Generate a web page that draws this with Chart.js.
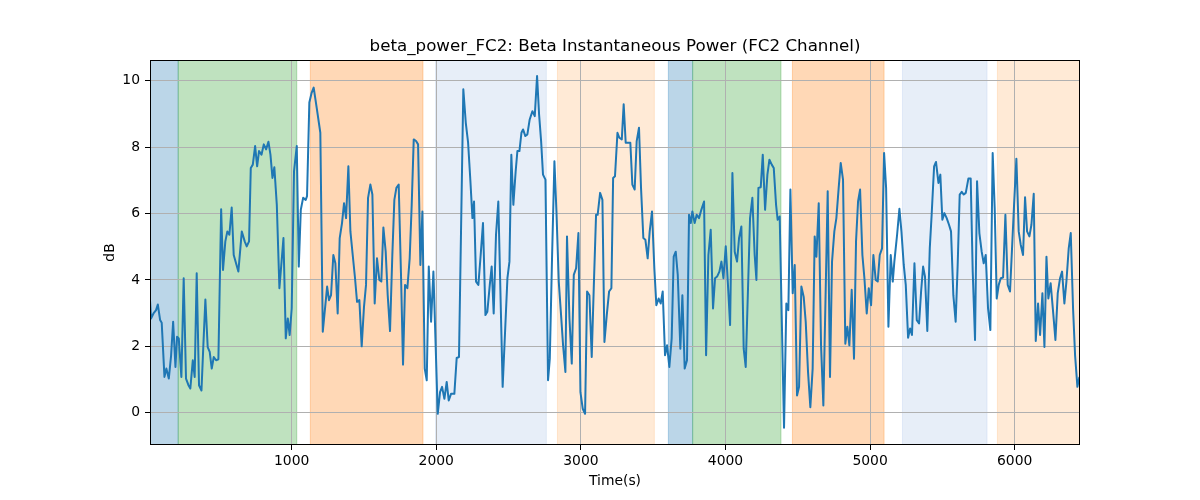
<!DOCTYPE html>
<html>
<head>
<meta charset="utf-8">
<title>beta_power_FC2</title>
<script src="https://cdn.jsdelivr.net/npm/chart.js@4/dist/chart.umd.min.js"></script>
<style>
	body { margin: 0; background: #ffffff; }
	#chart-canvas { display: block; }
</style>
</head>
<body>
<canvas id="chart-canvas" width="1200" height="500"></canvas>
<script>
// sample times (s) and beta power (dB)
const timeSec = [
	20,27,44,62,74,90,101,120,133,150,166,180,196,207,219,237,253,269,286,299,
	316,329,343,359,376,389,403,419,433,447,461,477,493,512,525,541,555,569,585,599,
	631,655,675,689,705,717,731,747,761,774,791,807,823,839,853,867,880,897,915,943,
	959,973,986,1000,1016,1035,1049,1063,1079,1097,1106,1122,1137,1152,1173,1198,1215,1245,1258,1272,
	1288,1302,1318,1332,1348,1362,1376,1392,1406,1422,1438,1452,1468,1484,1500,1514,1528,1544,1558,1574,
	1590,1606,1620,1634,1650,1664,1680,1696,1710,1724,1740,1756,1770,1784,1800,1816,1830,1844,1860,1874,
	1890,1904,1920,1934,1948,1964,1980,2010,2026,2040,2056,2072,2086,2102,2125,2141,2157,2187,2204,2220,
	2236,2250,2261,2275,2291,2307,2323,2340,2353,2370,2383,2397,2413,2429,2459,2492,2506,2519,2533,2549,
	2561,2575,2589,2600,2616,2630,2646,2665,2681,2697,2711,2725,2738,2755,2773,2785,2801,2817,2831,2847,
	2863,2877,2893,2904,2921,2937,2951,2967,2983,2997,3013,3029,3043,3059,3075,3089,3105,3116,3133,3149,
	3163,3179,3195,3211,3223,3236,3253,3266,3283,3296,3310,3329,3342,3356,3372,3386,3402,3416,3432,3446,
	3462,3476,3492,3508,3522,3538,3552,3566,3582,3596,3612,3628,3642,3656,3670,3688,3702,3718,3734,3748,
	3760,3771,3787,3801,3817,3833,3852,3866,3882,3898,3914,3928,3942,3958,3972,3986,4002,4016,4032,4048,
	4064,4080,4094,4110,4126,4140,4156,4170,4186,4202,4214,4228,4244,4258,4274,4290,4304,4320,4334,4350,
	4361,4375,4405,4421,4435,4449,4465,4479,4495,4509,4525,4541,4555,4571,4587,4603,4617,4629,4645,4661,
	4677,4707,4723,4737,4753,4767,4783,4797,4813,4829,4843,4857,4873,4889,4903,4917,4931,4947,4961,4977,
	4991,5007,5023,5039,5053,5067,5083,5097,5111,5127,5143,5157,5168,5187,5203,5217,5233,5247,5263,5277,
	5290,5307,5323,5339,5353,5367,5380,5396,5413,5426,5443,5456,5473,5486,5500,5514,5530,5546,5560,5576,
	5592,5606,5620,5634,5648,5662,5680,5696,5710,5726,5740,5756,5772,5786,5800,5816,5832,5848,5862,5876,
	5890,5904,5920,5936,5952,5968,5996,6012,6028,6042,6058,6072,6086,6102,6116,6132,6146,6162,6176,6192,
	6206,6220,6233,6249,6266,6282,6298,6314,6328,6344,6358,6374,6388,6404,6418,6434,6448
];

const betaPowerDb = [
	3.39,2.84,2.99,3.09,3.26,2.79,2.71,1.08,1.33,1.03,1.73,2.74,1.38,2.29,2.24,1.08,4.05,1.03,0.83,0.73,
	1.58,1.08,4.20,0.83,0.67,2.03,3.41,1.98,1.83,1.33,1.68,1.58,1.61,6.13,4.30,5.16,5.46,5.36,6.18,4.75,
	4.25,5.46,5.16,5.01,5.16,7.37,7.47,8.03,7.42,7.88,7.77,8.08,7.93,8.16,7.77,7.07,7.39,6.26,3.75,5.26,
	2.24,2.84,2.34,3.14,7.27,8.03,4.40,6.11,6.47,6.41,6.52,9.34,9.62,9.79,9.18,8.43,2.44,3.80,3.39,3.54,
	4.75,4.50,2.99,5.26,5.71,6.31,5.86,7.42,5.46,4.75,4.05,3.34,3.39,2.00,3.19,3.85,6.47,6.87,6.57,3.29,
	4.65,4.00,3.95,5.58,4.85,3.54,2.46,4.75,6.41,6.77,6.87,4.15,1.45,3.85,3.75,4.65,6.26,8.23,8.18,8.08,
	4.45,6.06,1.33,0.98,4.40,2.74,4.25,-0.03,0.62,0.78,0.42,0.93,0.37,0.57,0.57,1.65,1.68,9.74,8.73,8.13,
	6.97,5.86,6.36,3.95,3.85,4.75,5.71,2.94,3.04,3.85,4.40,2.99,5.36,6.36,0.78,4.05,4.55,7.77,6.26,7.27,
	7.88,7.88,8.43,8.53,8.33,8.38,8.83,9.08,8.93,10.14,8.98,8.18,7.17,7.02,0.98,1.63,4.75,7.57,6.06,3.95,
	2.94,2.03,1.23,5.31,2.84,1.48,4.15,4.35,5.41,0.62,0.12,-0.03,3.65,3.54,1.68,3.75,5.96,5.96,6.62,6.41,
	2.13,2.94,3.65,3.75,7.07,7.12,8.43,8.28,8.23,9.29,8.13,8.13,8.13,6.87,6.72,8.18,8.58,6.77,5.26,5.21,
	4.65,5.46,6.06,4.35,3.24,3.44,3.29,3.65,1.73,2.03,1.38,2.24,4.70,4.85,4.15,1.93,3.54,1.33,1.58,5.96,
	5.71,6.06,5.71,5.96,5.86,6.11,6.36,1.73,4.75,5.51,3.14,4.05,4.10,4.25,4.55,4.05,5.01,3.95,2.64,7.22,
	4.85,4.55,5.26,5.61,1.93,1.38,3.75,5.86,6.47,4.75,4.00,6.77,6.79,7.77,6.11,7.17,7.62,7.47,7.37,6.26,
	5.81,5.91,-0.45,3.29,3.09,6.72,3.60,4.45,0.52,0.78,3.80,3.49,2.74,1.23,0.17,1.33,5.31,4.70,6.31,2.03,
	0.22,6.67,1.08,4.55,5.46,5.86,6.77,7.52,7.02,2.08,2.59,2.03,3.70,1.63,5.16,6.36,6.72,4.75,4.05,2.99,
	3.75,3.24,4.75,4.00,3.95,4.75,4.95,7.82,6.77,2.59,4.75,3.95,4.55,5.36,6.14,5.46,4.45,3.85,2.26,2.54,
	2.34,4.50,2.79,2.69,3.65,4.40,4.10,2.46,4.95,5.96,7.42,7.55,6.92,7.17,5.81,6.01,5.86,5.66,5.46,3.54,
	2.74,4.45,6.57,6.65,6.57,6.62,7.05,7.05,4.25,2.19,6.97,5.41,4.85,4.50,4.75,3.14,2.49,7.82,6.16,3.44,
	3.85,4.05,4.07,5.96,3.85,3.65,6.26,7.65,5.46,5.06,4.75,6.49,5.46,5.31,5.66,6.59,2.16,3.29,2.34,3.60,
	1.98,4.70,3.44,3.90,3.04,2.19,3.60,4.05,4.25,3.29,3.95,4.95,5.41,3.14,1.73,0.78,1.08
];

// shaded phases (start, end in seconds, phase kind)
const spanStart = [20, 215, 1129, 1995, 2838, 3605, 3773, 4463, 5224, 5881];
const spanEnd   = [215, 1035, 1908, 2761, 3508, 3773, 4384, 5097, 5809, 6452];
const spanKind  = ['a', 'b', 'c', 'd', 'e', 'a', 'b', 'c', 'd', 'e'];

const xTickValues = [1000, 2000, 3000, 4000, 5000, 6000];
const xLimits = [20, 6452];
const yLimits = [-0.97, 10.62];

const chartTitle = 'beta_power_FC2: Beta Instantaneous Power (FC2 Channel)';

// tab20 style colours at alpha 0.3
const spanColours = {
	a: 'rgba(31, 119, 180, 0.3)',
	b: 'rgba(44, 160, 44, 0.3)',
	c: 'rgba(255, 127, 14, 0.3)',
	d: 'rgba(174, 199, 232, 0.3)',
	e: 'rgba(255, 187, 120, 0.3)'
};

const fontFamily = '"DejaVu Sans", sans-serif';

// axvspan style backgrounds, drawn before grid and line
const phaseSpans = {
	id: 'phaseSpans',
	beforeDraw(chart) {
		var ctx = chart.ctx;
		var area = chart.chartArea;
		var xs = chart.scales.x;
		ctx.save();
		ctx.beginPath();
		ctx.rect(area.left, area.top, area.right - area.left, area.bottom - area.top);
		ctx.clip();
		for (var i = 0; i < spanStart.length; i++) {
			var x0 = xs.getPixelForValue(spanStart[i]);
			var x1 = xs.getPixelForValue(spanEnd[i]);
			ctx.fillStyle = spanColours[spanKind[i]];
			ctx.strokeStyle = spanColours[spanKind[i]];
			ctx.lineWidth = 1;
			ctx.fillRect(x0, area.top - 2, x1 - x0, area.bottom - area.top + 4);
			ctx.strokeRect(x0, area.top - 2, x1 - x0, area.bottom - area.top + 4);
		}
		ctx.restore();
	},
	afterDraw(chart) {
		var ctx = chart.ctx;
		var a = chart.chartArea;
		ctx.save();
		// black frame round the axes
		ctx.strokeStyle = '#000000';
		ctx.lineWidth = 1;
		ctx.strokeRect(Math.round(a.left) + 0.5, Math.round(a.top) + 0.5,
			Math.round(a.right - a.left) - 1, Math.round(a.bottom - a.top) - 1);
		// title centred over the axes, like matplotlib
		ctx.fillStyle = '#000000';
		ctx.font = '16.7px ' + fontFamily;
		ctx.textAlign = 'center';
		ctx.textBaseline = 'middle';
		ctx.fillText(chartTitle, (a.left + a.right) / 2, 47);
		ctx.restore();
	}
};

const points = timeSec.map(function (t, i) {
	return { x: t, y: betaPowerDb[i] };
});

const ctx = document.getElementById('chart-canvas').getContext('2d');
const chart = new Chart(ctx, {
	type: 'line',
	plugins: [phaseSpans],
	data: {
		datasets: [{
			label: 'beta_power_FC2',
			data: points,
			borderColor: '#1f77b4',
			borderWidth: 2,
			borderJoinStyle: 'round',
			pointRadius: 0,
			tension: 0,
			fill: false
		}]
	},
	options: {
		responsive: false,
		animation: false,
		layout: {
			padding: { left: 0, right: 120, top: 60, bottom: 0 }
		},
		plugins: {
			legend: { display: false },
			tooltip: { enabled: false },
			title: { display: false }
		},
		scales: {
			x: {
				type: 'linear',
				min: xLimits[0],
				max: xLimits[1],
				afterFit: function (scale) { scale.height = 55; },
				afterBuildTicks: function (scale) {
					scale.ticks = xTickValues.map(function (v) { return { value: v }; });
				},
				ticks: {
					color: '#000000',
					padding: 3,
					maxRotation: 0,
					autoSkip: false,
					font: { family: fontFamily, size: 13.9 },
					callback: function (v) { return v; }
				},
				grid: {
					color: '#b0b0b0',
					lineWidth: 1,
					tickColor: '#000000',
					tickLength: 5,
					tickWidth: 1
				},
				border: { display: false },
				title: {
					display: true,
					text: 'Time(s)',
					color: '#000000',
					font: { family: fontFamily, size: 13.9 },
					padding: { top: 0, bottom: 10.7 }
				}
			},
			y: {
				min: yLimits[0],
				max: yLimits[1],
				afterFit: function (scale) { scale.width = 150; },
				ticks: {
					stepSize: 2,
					includeBounds: false,
					color: '#000000',
					padding: 5,
					font: { family: fontFamily, size: 13.9 }
				},
				grid: {
					color: '#b0b0b0',
					lineWidth: 1,
					tickColor: '#000000',
					tickLength: 5,
					tickWidth: 1
				},
				border: { display: false },
				title: {
					display: true,
					text: 'dB',
					color: '#000000',
					font: { family: fontFamily, size: 13.9 },
					padding: { top: 101.7, bottom: 0 }
				}
			}
		}
	}
});
</script>
</body>
</html>
